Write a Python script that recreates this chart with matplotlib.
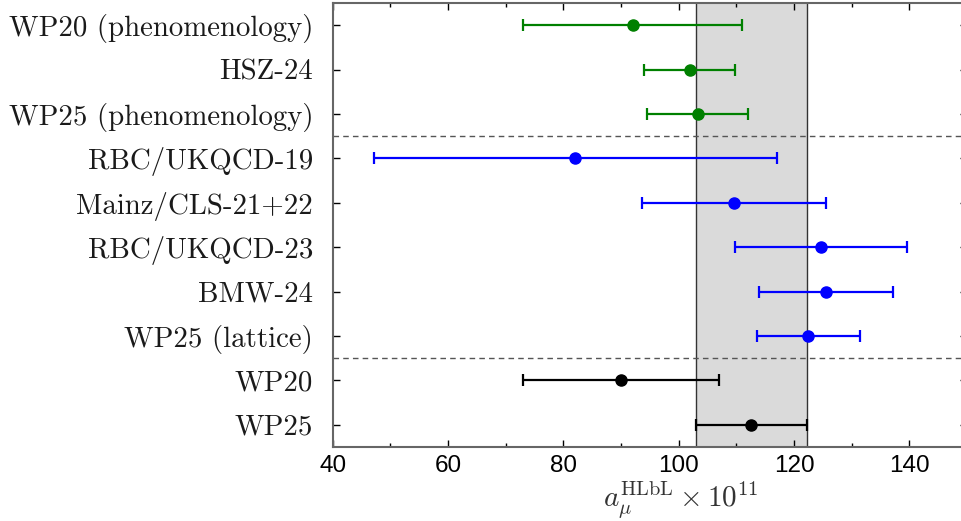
import numpy as np
import matplotlib
matplotlib.use("Agg")
import matplotlib.pyplot as plt
from matplotlib.ticker import MultipleLocator

plt.rcParams['mathtext.fontset'] = 'cm'

labels = ['WP20 (phenomenology)', 'HSZ-24', 'WP25 (phenomenology)',
          'RBC/UKQCD-19', 'Mainz/CLS-21+22', 'RBC/UKQCD-23', 'BMW-24',
          'WP25 (lattice)', 'WP20', 'WP25']
centers = [92.0, 101.9, 103.3, 82.1, 109.6, 124.7, 125.5, 122.5, 90.0, 112.6]
errors = [19.0, 7.9, 8.8, 35.0, 15.9, 14.9, 11.6, 9.0, 17.0, 9.6]
colors = ['#008000'] * 3 + ['#0000ff'] * 5 + ['#000000'] * 2
xticks = [40, 60, 80, 100, 120, 140]

fig = plt.figure(figsize=(9.62, 5.21), dpi=100)
ax = fig.add_axes([0.3458, 0.142, 0.6594, 0.8522])

# WP25 band
band_lo = centers[-1] - errors[-1]
band_hi = centers[-1] + errors[-1]
ax.axvspan(band_lo, band_hi, color='#dadada', zorder=0, lw=0)
ax.axvline(band_lo, color='#333333', lw=1.0, zorder=1)
ax.axvline(band_hi, color='#333333', lw=1.0, zorder=1)

# group separators
for y in (2.5, 7.5):
    ax.axhline(y, color='#555555', lw=1.0, ls=(0, (4, 3)), zorder=2)

ypos = np.arange(len(labels))
for y, c, e, col in zip(ypos, centers, errors, colors):
    ax.errorbar(c, y, xerr=e, fmt='o', color=col, ms=8, elinewidth=1.6,
                capsize=4.5, capthick=1.6, zorder=3)

ax.set_xlim(40, 150)
ax.set_ylim(9.5, -0.5)
ax.set_xticks(xticks)
ax.xaxis.set_minor_locator(MultipleLocator(10))
ax.set_yticks(ypos)
ax.set_yticklabels(labels, fontfamily='cmr10', fontsize=20.8, color='#1a1a1a')
for t in ax.get_xticklabels():
    t.set_fontfamily('Liberation Sans')
    t.set_fontsize(17.5)

ax.tick_params(axis='both', which='both', direction='in', top=True, right=True)
ax.tick_params(axis='x', which='major', length=5, width=1.0, pad=6)
ax.tick_params(axis='x', which='minor', length=3, width=1.0)
ax.tick_params(axis='y', which='major', length=5, width=1.0, pad=14)
ax.tick_params(axis='y', which='minor', left=False, right=False)

for s in ax.spines.values():
    s.set_color('#666666')
    s.set_linewidth(1.5)

ax.set_xlabel(r'$a_\mu^{\rm HLbL}\times 10^{11}$', fontsize=21, color='#333333')
ax.xaxis.set_label_coords(0.549, -0.075)

fig.savefig('out.png', dpi=100)
